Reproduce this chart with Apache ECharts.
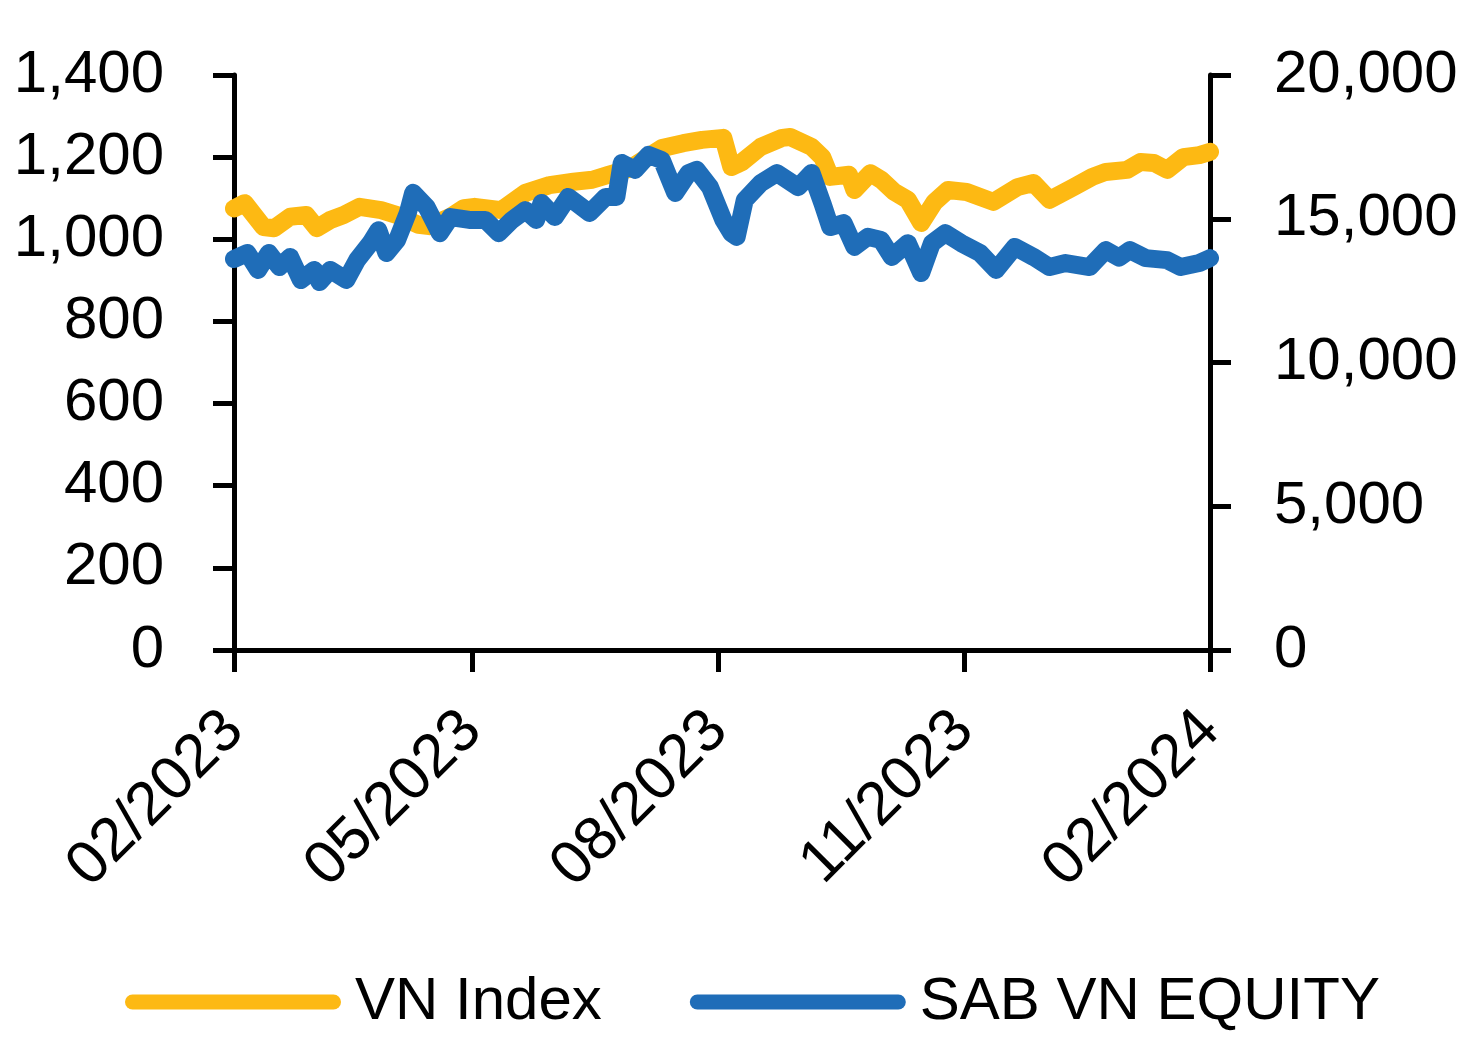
<!DOCTYPE html>
<html>
<head>
<meta charset="utf-8">
<script src="https://cdn.jsdelivr.net/npm/echarts@6/dist/echarts.min.js"></script>
<style>
html,body{margin:0;padding:0;background:#fff;}
#chart{width:1476px;height:1063px;}
</style>
</head>
<body>
<div id="chart"></div>
<script>
// ---- data ----
const seriesNames = ['VN Index', 'SAB VN EQUITY'];

const vnDates = ['2023-02-01','2023-02-05','2023-02-12','2023-02-16','2023-02-22','2023-02-28','2023-03-04','2023-03-09','2023-03-14','2023-03-20','2023-03-28','2023-04-03','2023-04-11','2023-04-15','2023-04-23','2023-04-28','2023-05-02','2023-05-12','2023-05-21','2023-05-30','2023-06-08','2023-06-15','2023-06-21','2023-06-29','2023-07-11','2023-07-19','2023-07-26','2023-08-03','2023-08-06','2023-08-10','2023-08-17','2023-08-25','2023-08-28','2023-09-05','2023-09-09','2023-09-12','2023-09-19','2023-09-21','2023-09-27','2023-10-01','2023-10-06','2023-10-11','2023-10-16','2023-10-21','2023-10-26','2023-11-02','2023-11-12','2023-11-21','2023-11-27','2023-12-03','2023-12-12','2023-12-19','2023-12-24','2024-01-01','2024-01-06','2024-01-11','2024-01-16','2024-01-22','2024-01-28','2024-02-01'];
const vnValues = [1075,1088,1030,1027,1055,1059,1027,1047,1059,1079,1071,1059,1035,1032,1055,1076,1079,1071,1113,1132,1140,1145,1157,1172,1222,1234,1242,1247,1176,1188,1225,1247,1249,1225,1200,1152,1157,1120,1161,1145,1115,1096,1040,1091,1120,1115,1091,1127,1137,1096,1127,1152,1164,1169,1188,1186,1169,1200,1205,1213];

const sabDates = ['2023-02-01','2023-02-06','2023-02-10','2023-02-14','2023-02-18','2023-02-22','2023-02-26','2023-03-03','2023-03-05','2023-03-09','2023-03-15','2023-03-19','2023-03-24','2023-03-27','2023-03-30','2023-04-03','2023-04-07','2023-04-09','2023-04-14','2023-04-19','2023-04-23','2023-04-30','2023-05-06','2023-05-11','2023-05-16','2023-05-21','2023-05-25','2023-05-27','2023-06-01','2023-06-06','2023-06-14','2023-06-20','2023-06-24','2023-06-26','2023-07-01','2023-07-06','2023-07-11','2023-07-16','2023-07-21','2023-07-24','2023-07-29','2023-08-03','2023-08-06','2023-08-08','2023-08-11','2023-08-17','2023-08-23','2023-08-31','2023-09-05','2023-09-09','2023-09-12','2023-09-17','2023-09-21','2023-09-26','2023-10-01','2023-10-05','2023-10-11','2023-10-16','2023-10-20','2023-10-25','2023-10-31','2023-11-07','2023-11-13','2023-11-20','2023-11-27','2023-12-03','2023-12-09','2023-12-18','2023-12-24','2023-12-29','2024-01-02','2024-01-08','2024-01-16','2024-01-21','2024-01-28','2024-02-01'];
const sabValues = [13600,13810,13220,13810,13320,13670,12870,13220,12800,13220,12870,13560,14150,14600,13810,14260,15200,15900,15410,14500,15060,14960,14960,14500,14960,15300,14960,15550,15060,15760,15200,15760,15760,16940,16700,17220,17040,15900,16590,16700,16100,14960,14500,14370,15650,16240,16590,16100,16590,15550,14710,14850,14020,14370,14260,13670,14150,13110,14150,14500,14150,13810,13220,14020,13670,13320,13460,13320,13910,13650,13910,13630,13560,13320,13460,13630];

const xTickDates = ['2023-02-01','2023-05-01','2023-08-01','2023-11-01','2024-02-01'];
const xTickLabels = ['02/2023','05/2023','08/2023','11/2023','02/2024'];

// ---- helpers ----
function toTime(s){ const p = s.split('-').map(Number); return Date.UTC(p[0], p[1]-1, p[2]); }
const tickTimes = xTickDates.map(toTime);
const vnData = vnDates.map((d,i)=>[toTime(d), vnValues[i]]);
const sabData = sabDates.map((d,i)=>[toTime(d), sabValues[i]]);
const FONT = "'Liberation Sans', Arial, sans-serif";
const YELLOW = '#FDB913';
const BLUE = '#1F6DB8';
function fmt(v){ return v.toString().replace(/\B(?=(\d{3})+(?!\d))/g, ','); }
function pill(w,h){ const r=h/2; return `path://M${r},0 L${w-r},0 A${r},${r} 0 0 1 ${w-r},${h} L${r},${h} A${r},${r} 0 0 1 ${r},0 Z`; }

const chart = echarts.init(document.getElementById('chart'), null, {renderer:'canvas'});
const axisLine = {show:true, lineStyle:{color:'#000', width:5}};
const axisTick = {show:true, inside:false, length:21, lineStyle:{color:'#000', width:5}};
chart.setOption({
  animation:false,
  backgroundColor:'#fff',
  grid:{left:234, right:266, top:75, bottom:413, containLabel:false, outerBoundsMode:'none'},
  legend:{
    top:967, left:120, itemGap:88, itemWidth:216, itemHeight:15,
    textStyle:{fontFamily:FONT, fontSize:60, color:'#000', padding:[0,0,0,9]},
    data:[{name:seriesNames[0], icon:pill(216,15)},{name:seriesNames[1], icon:pill(216,15)}]
  },
  xAxis:{
    type:'value', min:tickTimes[0], max:tickTimes[tickTimes.length-1],
    axisLine:axisLine,
    axisTick:{show:true, length:22, lineStyle:{color:'#000', width:5}, customValues:tickTimes},
    axisLabel:{customValues:tickTimes, rotate:45, margin:71, fontFamily:FONT, fontSize:61, color:'#000',
      formatter:function(v){ let best=0; for(let i=1;i<tickTimes.length;i++){ if(Math.abs(tickTimes[i]-v)<Math.abs(tickTimes[best]-v)) best=i; } return xTickLabels[best]; }},
    splitLine:{show:false}
  },
  yAxis:[
    {type:'value', position:'left', min:0, max:1400, interval:200,
     axisLine:axisLine, axisTick:axisTick, splitLine:{show:false},
     axisLabel:{margin:70, fontFamily:FONT, fontSize:60, color:'#000', formatter:fmt}},
    {type:'value', position:'right', min:0, max:20000, interval:5000,
     axisLine:axisLine, axisTick:axisTick, splitLine:{show:false},
     axisLabel:{margin:64, fontFamily:FONT, fontSize:60, color:'#000', formatter:fmt}}
  ],
  series:[
    {name:seriesNames[0], type:'line', yAxisIndex:0, data:vnData, showSymbol:false, symbol:'none',
     itemStyle:{color:YELLOW}, lineStyle:{color:YELLOW, width:18, cap:'round', join:'round'}},
    {name:seriesNames[1], type:'line', yAxisIndex:1, data:sabData, showSymbol:false, symbol:'none',
     itemStyle:{color:BLUE}, lineStyle:{color:BLUE, width:18, cap:'round', join:'round'}}
  ]
});
</script>
</body>
</html>
